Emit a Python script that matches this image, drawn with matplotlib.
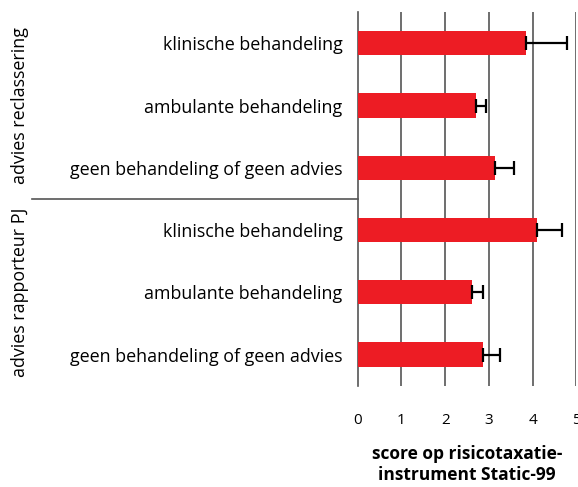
import numpy as np
import matplotlib.pyplot as plt

plt.rcParams['font.family'] = ['Open Sans', 'DejaVu Sans']

# Data
labels = ['klinische behandeling', 'ambulante behandeling', 'geen behandeling of geen advies',
          'klinische behandeling', 'ambulante behandeling', 'geen behandeling of geen advies']
scores = [3.85, 2.71, 3.13, 4.11, 2.61, 2.87]
upper = [4.78, 2.93, 3.58, 4.68, 2.86, 3.25]
groups = ['advies reclassering', 'advies rapporteur PJ']
xticks = [0, 1, 2, 3, 4, 5]

err = np.array(upper) - np.array(scores)
ypos = np.arange(len(scores))

fig = plt.figure(figsize=(5.78, 4.87), dpi=100)
ax = fig.add_axes([0.619, 0.208, 0.378, 0.767])

ax.barh(ypos, scores, height=0.39, color='#ED1C24', zorder=3)
ax.errorbar(scores, ypos, xerr=[np.zeros(len(err)), err], fmt='none',
            ecolor='black', elinewidth=1.6, capsize=5, capthick=1.6, zorder=4)

ax.set_xlim(0, 5)
ax.set_ylim(5.5, -0.5)
ax.set_xticks(xticks)
ax.set_xticklabels([str(t) for t in xticks], fontsize=11)
ax.set_yticks(ypos)
ax.set_yticklabels(labels, fontsize=12.9)
ax.tick_params(length=0)
ax.tick_params(axis='y', pad=11)
ax.tick_params(axis='x', pad=20)

for t in xticks[1:]:
    ax.axvline(t, color='#555555', lw=1.2, zorder=1)

for s in ['top', 'right', 'bottom']:
    ax.spines[s].set_visible(False)
ax.spines['left'].set_color('#555555')
ax.spines['left'].set_linewidth(1.2)

ax.set_xlabel('score op risicotaxatie-\ninstrument Static-99', fontsize=12.5,
              fontweight='bold', labelpad=12)

# divider between groups
ax.plot([-7.45, 0], [2.5, 2.5], color='#555555', lw=1.2, clip_on=False)

# group labels
ax.text(-7.73, 1.0, groups[0], rotation=90, ha='center', va='center', fontsize=12.9)
ax.text(-7.73, 4.0, groups[1], rotation=90, ha='center', va='center', fontsize=12.9)

fig.savefig('out.png', dpi=100)
